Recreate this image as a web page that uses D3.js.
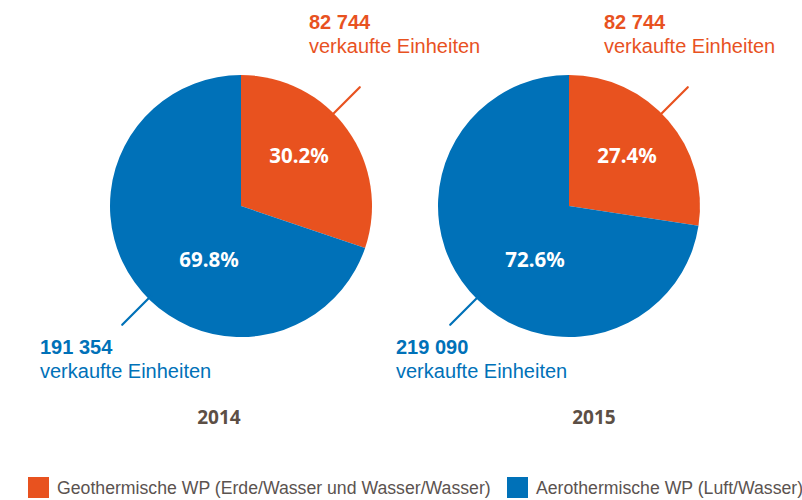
<!DOCTYPE html>
<html>
<head>
<meta charset="utf-8">
<script src="https://cdn.jsdelivr.net/npm/d3@7"></script>
<style>
  html, body { margin: 0; padding: 0; background: #fff; }
  svg { display: block; }
</style>
</head>
<body>
<svg id="chart" width="802" height="500"></svg>
<script>
// ---- data ----
const years = ["2014", "2015"];
const geoUnits = [82744, 82744];
const aeroUnits = [191354, 219090];
const geoPct = [30.2, 27.4];
const aeroPct = [69.8, 72.6];
const seriesNames = ["Geothermische WP (Erde/Wasser und Wasser/Wasser)", "Aerothermische WP (Luft/Wasser)"];
const unitLabel = "verkaufte Einheiten";

// ---- layout ----
const W = 802, H = 500;
const colors = ["#e8521f", "#0071b8"];
const yearColor = "#5c4f45";
const legendColor = "#5b5350";
const cy = 206, R = 131;
const xCenter = d3.scalePoint().domain(years).range([241, 569]);
const geoLabelDx = [68, 35];       // start x of orange number label relative to centre
const aeroLabelX = [40, 396];       // start x of blue number label
const yearDx = [-22, 25];

const svg = d3.select("#chart");
const fmt = d3.formatLocale({ decimal: ",", thousands: " ", grouping: [3], currency: ["", ""] }).format(",d");
const pctFmt = v => v.toFixed(1) + "%";

const pie = d3.pie().sort(null).value(d => d.value);
const arc = d3.arc().innerRadius(0).outerRadius(R);

years.forEach((yr, i) => {
  const cx = xCenter(yr);
  const g = svg.append("g").attr("transform", `translate(${cx},${cy})`);
  const data = [
    { key: "geo", value: geoUnits[i], pct: geoPct[i] },
    { key: "aero", value: aeroUnits[i], pct: aeroPct[i] }
  ];
  const arcs = pie(data);
  g.selectAll("path.slice").data(arcs).join("path")
    .attr("class", "slice")
    .attr("d", arc)
    .attr("fill", (d, j) => colors[j]);

  // leader lines
  const leader = (angleDeg, color) => {
    const a = angleDeg * Math.PI / 180;
    const r0 = 127, r1 = 168;
    g.append("line")
      .attr("x1", Math.sin(a) * r0).attr("y1", -Math.cos(a) * r0)
      .attr("x2", Math.sin(a) * r1).attr("y2", -Math.cos(a) * r1)
      .attr("stroke", color).attr("stroke-width", 2.2).attr("stroke-linecap", "round");
  };
  leader(45, colors[0]);
  leader(225, colors[1]);

  // percentage labels
  const pctFont = "'Noto Sans', 'Open Sans', sans-serif";
  g.append("text").attr("x", 58).attr("y", -43)
    .attr("text-anchor", "middle").attr("fill", "#fff")
    .style("font-family", pctFont).style("font-weight", "bold").style("font-size", "20.5px")
    .text(pctFmt(geoPct[i]));
  g.append("text").attr("x", i === 0 ? -32 : -34).attr("y", 61)
    .attr("text-anchor", "middle").attr("fill", "#fff")
    .style("font-family", pctFont).style("font-weight", "bold").style("font-size", "20.5px")
    .text(pctFmt(aeroPct[i]));

  // unit labels
  const lblFont = "'Liberation Sans', Arial, sans-serif";
  const geoX = cx + geoLabelDx[i];
  svg.append("text").attr("x", geoX).attr("y", 29).attr("fill", colors[0])
    .style("font-family", lblFont).style("font-weight", "bold").style("font-size", "20px")
    .text(fmt(geoUnits[i]));
  svg.append("text").attr("x", geoX).attr("y", 53).attr("fill", colors[0])
    .style("font-family", lblFont).style("font-size", "20px")
    .text(unitLabel);
  svg.append("text").attr("x", aeroLabelX[i]).attr("y", 354).attr("fill", colors[1])
    .style("font-family", lblFont).style("font-weight", "bold").style("font-size", "20px")
    .text(fmt(aeroUnits[i]));
  svg.append("text").attr("x", aeroLabelX[i]).attr("y", 378).attr("fill", colors[1])
    .style("font-family", lblFont).style("font-size", "20px")
    .text(unitLabel);

  // year
  svg.append("text").attr("x", cx + yearDx[i]).attr("y", 424)
    .attr("text-anchor", "middle").attr("fill", yearColor)
    .style("font-family", "'Noto Sans', sans-serif").style("font-weight", "bold").style("font-size", "19px")
    .text(yr);
});

// ---- legend ----
const legendItems = [
  { name: seriesNames[0], color: colors[0], x: 28 },
  { name: seriesNames[1], color: colors[1], x: 507 }
];
const lg = svg.append("g");
let scaleX = 1;
legendItems.forEach((d, i) => {
  lg.append("rect").attr("x", d.x).attr("y", 477).attr("width", 21).attr("height", 21).attr("fill", d.color);
  const t = lg.append("text")
    .attr("fill", legendColor)
    .style("font-family", "'Liberation Sans', Arial, sans-serif").style("font-size", "17.5px")
    .text(d.name);
  if (i === 0) {
    const w = t.node().getComputedTextLength();
    scaleX = 434 / w;
  }
  t.attr("transform", `translate(${d.x + 29},494) scale(${scaleX},1)`);
});
</script>
</body>
</html>
